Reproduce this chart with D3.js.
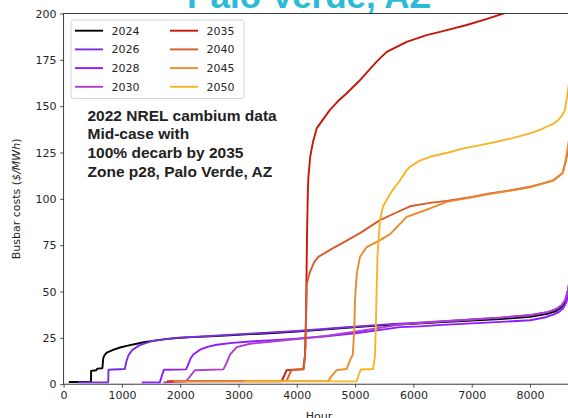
<!DOCTYPE html>
<html>
<head>
<meta charset="utf-8">
<script src="https://cdn.jsdelivr.net/npm/d3@7"></script>
<style>
  html, body { margin: 0; padding: 0; background: #fff; }
  svg { display: block; }
</style>
</head>
<body>
<svg id="chart" width="568" height="418"></svg>
<script>
// Sorted hourly busbar cost duration curves, [hour, $/MWh]
const years = ["2024", "2026", "2028", "2030", "2035", "2040", "2045", "2050"];
const lineColors = ["#000000", "#7a2ee0", "#8c1cff", "#ae3ed2", "#c4170c", "#d95a2b", "#ea8a2e", "#f7b526"];

const cost2024 = [[90,1.2],[470,1.2],[472,7.2],[560,7.5],[580,8.4],[665,8.6],[680,14],[700,15.5],[740,17],[850,18.5],[967,19.8],[1100,20.8],[1254,21.8],[1400,22.8],[1540,23.4],[1750,24.3],[1940,24.9],[2200,25.4],[2511,25.8],[2850,26.4],[3200,27],[3600,27.6],[4000,28.4],[4400,29.3],[4800,30.3],[5200,31.2],[5600,32],[6000,32.6],[6500,33.5],[7000,34.3],[7500,35.2],[8000,36.3],[8300,38],[8450,39.5],[8540,41.5],[8600,44],[8640,48],[8670,53],[8700,58],[8760,70]];
const cost2026 = [[245,1],[765,1],[770,7.8],[1050,8.2],[1075,12],[1110,15.5],[1180,18.5],[1290,20.8],[1370,21.8],[1540,23.5],[1940,25],[2511,26],[3200,27.3],[4000,28.7],[4800,30.6],[5600,32.4],[6000,33.1],[6500,34],[7000,34.9],[7500,35.9],[8000,37.2],[8300,38.8],[8450,40.5],[8540,42.5],[8600,45],[8640,49],[8670,54],[8700,59],[8760,72]];
const cost2028 = [[1340,1],[1650,1],[1690,5],[1720,7.8],[2100,8],[2130,10],[2180,14],[2225,16],[2340,18.6],[2480,20.3],[2626,21.3],[2900,22.3],[3197,23],[3600,23.8],[4000,24.6],[4500,25.9],[5000,27.5],[5500,29.6],[5770,30.8],[6113,31.2],[6500,32],[7000,32.8],[7500,33.6],[8000,34.5],[8250,36],[8400,37.5],[8500,39],[8570,41],[8620,44],[8660,48],[8700,53],[8760,65]];
const cost2030 = [[1711,1],[2100,1.5],[2150,3.5],[2250,7.5],[2740,8],[2790,11],[2854,16],[2969,20],[3197,21.8],[3500,22.8],[4000,24.3],[4500,26],[5000,28.3],[5500,30.8],[5770,32.2],[6113,33],[6500,33.9],[7000,34.9],[7500,35.9],[8000,37.3],[8300,38.9],[8450,40.6],[8540,42.6],[8600,45.2],[8640,49.3],[8670,54.5],[8700,60],[8760,73]];
const cost2035 = [[1770,1.5],[3740,1.6],[3790,5],[3826,7.6],[4110,8],[4140,15],[4160,40],[4175,80],[4190,105],[4200,112],[4230,122.7],[4280,131],[4341,138],[4454,143],[4569,148],[4700,152.5],[4856,157],[5084,164],[5370,174],[5542,179.3],[5885,184.7],[6228,188.3],[6456,190.1],[6914,193.8],[7250,197],[7542,200],[8000,206],[8500,215],[8760,260]];
const cost2040 = [[1800,1.8],[3826,1.8],[3870,5],[3912,7.8],[4120,8.2],[4150,20],[4165,45],[4170,54],[4220,60],[4300,66],[4369,68.7],[4600,73],[4856,77.5],[5084,81.5],[5427,88.5],[5700,92.5],[5942,96],[6285,97.8],[6571,98.9],[7000,101],[7314,102.9],[7700,104.8],[8000,106.5],[8400,110],[8560,114],[8620,121],[8660,128],[8700,136],[8760,165]];
const cost2045 = [[1900,1.5],[4540,1.8],[4600,4.5],[4684,7.6],[4856,8.2],[4900,12],[4960,16],[4987,30],[4998,45.3],[5030,60],[5084,68.7],[5199,74],[5427,77.7],[5600,81],[5885,90.3],[6285,94.8],[6571,98.4],[7000,100.8],[7314,102.7],[7700,104.6],[8000,106.2],[8400,109.8],[8560,114],[8620,122],[8660,130],[8700,139],[8760,170]];
const cost2050 = [[3100,1.5],[5027,1.5],[5060,5],[5100,7.9],[5310,8.2],[5340,15],[5355,30],[5365,45],[5385,70],[5427,88.5],[5480,96],[5570,101],[5650,105],[5770,110],[5885,115.5],[5942,117.3],[6100,120.5],[6285,122.7],[6600,125],[6856,127.2],[7150,129],[7428,130.8],[7700,132.8],[8000,135.3],[8150,137],[8286,138.9],[8400,140.5],[8486,142.5],[8560,145.5],[8600,148],[8640,156],[8680,165],[8760,200]];
const seriesValues = [cost2024, cost2026, cost2028, cost2030, cost2035, cost2040, cost2045, cost2050];

const xTicks = [0, 1000, 2000, 3000, 4000, 5000, 6000, 7000, 8000];
const yTicks = [0, 25, 50, 75, 100, 125, 150, 175, 200];
const noteLines = ["2022 NREL cambium data", "Mid-case with", "100% decarb by 2035", "Zone p28, Palo Verde, AZ"];

const svg = d3.select("#chart");
const plot = { left: 63.6, right: 574.3, top: 13.5, bottom: 384.2 };

const x = d3.scaleLinear().domain([0, 8760]).range([plot.left, plot.right]);
const y = d3.scaleLinear().domain([0, 200]).range([plot.bottom, plot.top]);

const textColor = "#262626";
const tickFont = "DejaVu Sans, sans-serif";

// Title
svg.append("text")
  .attr("x", 309).attr("y", 8)
  .attr("text-anchor", "middle")
  .attr("font-family", "Liberation Sans, Arial, sans-serif")
  .attr("font-weight", "bold")
  .attr("font-size", 35)
  .attr("fill", "#2bbad8")
  .text("Palo Verde, AZ");

// Clip region for the curves
svg.append("defs").append("clipPath").attr("id", "plotClip")
  .append("rect")
  .attr("x", plot.left).attr("y", plot.top)
  .attr("width", plot.right - plot.left).attr("height", plot.bottom - plot.top);

const line = d3.line().x(d => x(d[0])).y(d => y(d[1]));

const curves = svg.append("g").attr("clip-path", "url(#plotClip)");
seriesValues.forEach((vals, i) => {
  curves.append("path")
    .datum(vals)
    .attr("d", line)
    .attr("fill", "none")
    .attr("stroke", lineColors[i])
    .attr("stroke-width", 1.9)
    .attr("stroke-linejoin", "round")
    .attr("stroke-linecap", "butt");
});

// Axes
const xAxis = svg.append("g")
  .attr("transform", `translate(0,${plot.bottom})`)
  .call(d3.axisBottom(x).tickValues(xTicks).tickFormat(d3.format("d")).tickSizeOuter(0).tickSize(3.5).tickPadding(3.5));
const yAxis = svg.append("g")
  .attr("transform", `translate(${plot.left},0)`)
  .call(d3.axisLeft(y).tickValues(yTicks).tickFormat(d3.format("d")).tickSizeOuter(0).tickSize(3.5).tickPadding(3.5));

[xAxis, yAxis].forEach(ax => {
  ax.select(".domain").remove();
  ax.selectAll(".tick line").attr("stroke", textColor).attr("stroke-width", 0.8);
  ax.selectAll(".tick text")
    .attr("fill", textColor)
    .attr("font-family", tickFont)
    .attr("font-size", 11);
});

// Frame
svg.append("rect")
  .attr("x", plot.left).attr("y", plot.top)
  .attr("width", plot.right - plot.left).attr("height", plot.bottom - plot.top)
  .attr("fill", "none")
  .attr("stroke", textColor)
  .attr("stroke-width", 0.9);

// Axis labels
const yLabel = svg.append("text")
  .attr("transform", `translate(20,${(plot.top + plot.bottom) / 2}) rotate(-90)`)
  .attr("text-anchor", "middle")
  .attr("font-family", tickFont)
  .attr("font-size", 11)
  .attr("fill", textColor);
yLabel.append("tspan").text("Busbar costs (");
yLabel.append("tspan").attr("font-style", "italic").text("$/MWh");
yLabel.append("tspan").text(")");

svg.append("text")
  .attr("x", (plot.left + plot.right) / 2).attr("y", 419.5)
  .attr("text-anchor", "middle")
  .attr("font-family", tickFont)
  .attr("font-size", 11)
  .attr("fill", textColor)
  .text("Hour");

// Legend, two columns of four
const legend = svg.append("g");
legend.append("rect")
  .attr("x", 71).attr("y", 20)
  .attr("width", 173).attr("height", 78.5)
  .attr("rx", 2.5)
  .attr("fill", "#fff").attr("fill-opacity", 0.8)
  .attr("stroke", "#d0d0d0").attr("stroke-width", 0.9);

years.forEach((yr, i) => {
  const col = Math.floor(i / 4), row = i % 4;
  const lx = 75 + col * 95;
  const ly = 30.7 + row * 18.7;
  legend.append("line")
    .attr("x1", lx).attr("x2", lx + 28)
    .attr("y1", ly).attr("y2", ly)
    .attr("stroke", lineColors[i]).attr("stroke-width", 1.9);
  legend.append("text")
    .attr("x", lx + 36.5).attr("y", ly + 4)
    .attr("font-family", tickFont)
    .attr("font-size", 11)
    .attr("fill", textColor)
    .text(yr);
});

// Annotation
noteLines.forEach((t, i) => {
  svg.append("text")
    .attr("x", 87.5).attr("y", 120.5 + i * 18.9)
    .attr("font-family", "Liberation Sans, Arial, sans-serif")
    .attr("font-weight", "bold")
    .attr("font-size", 15.5)
    .attr("fill", "#222")
    .text(t);
});
</script>
</body>
</html>
